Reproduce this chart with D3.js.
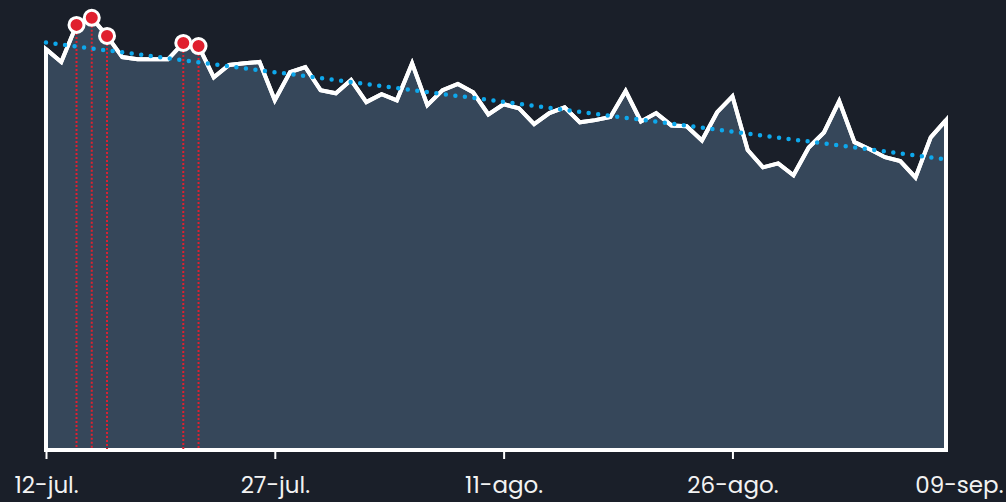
<!DOCTYPE html>
<html lang="es">
<head>
<meta charset="UTF-8">
<title>Serie diaria</title>
<script src="https://d3js.org/d3.v7.min.js"></script>
<style>
    html, body { margin: 0; padding: 0; background: #1a1f29; }
    svg { display: block; }
    .tick text { font-family: Poppins, "Noto Sans", Lato, sans-serif; }
</style>
</head>
<body>
<svg id="chart" width="1006" height="502"></svg>
<script>
    // Data
    const startDate = new Date(2024, 6, 12);
    const values = [
        90.9, 88.0, 96.4, 98.0, 93.9, 89.1, 88.6, 88.6, 88.6, 92.3,
        91.6, 84.5, 87.3, 87.7, 88.0, 79.3, 85.7, 86.8, 81.6, 80.9,
        83.9, 78.9, 80.7, 79.3, 87.7, 78.2, 81.6, 83.0, 81.1, 76.1,
        78.4, 77.5, 73.9, 76.4, 77.7, 74.3, 74.8, 75.5, 81.4, 74.5,
        76.4, 73.6, 73.4, 70.2, 76.6, 80.2, 68.0, 64.1, 65.0, 62.3,
        68.6, 72.0, 79.1, 69.8, 68.2, 66.4, 65.5, 61.8, 70.9, 74.8
    ];
    const tickDates = [
        new Date(2024, 6, 12), new Date(2024, 6, 27), new Date(2024, 7, 11),
        new Date(2024, 7, 26), new Date(2024, 8, 9)
    ];
    const tickLabels = ['12-jul.', '27-jul.', '11-ago.', '26-ago.', '09-sep.'];
    const topCount = 5;

    const data = values.map((v, i) => ({ date: d3.timeDay.offset(startDate, i), value: v }));

    const svg = d3.select('#chart'),
          margin = { top: 9, right: 60, bottom: 52, left: 46 },
          width = +svg.attr('width') - margin.left - margin.right,
          height = +svg.attr('height') - margin.top - margin.bottom;

    const g = svg.append('g').attr('transform', `translate(${margin.left},${margin.top})`);

    const x = d3.scaleTime().domain(d3.extent(data, d => d.date)).range([0, width]);
    const y = d3.scaleLinear().domain([0, 100]).range([height, 0]);

    // area + outline
    const area = d3.area().x(d => x(d.date)).y0(height).y1(d => y(d.value));
    g.append('path')
        .datum(data)
        .attr('fill', '#36475a')
        .attr('stroke', '#ffffff')
        .attr('stroke-width', 4)
        .attr('d', area);

    // red markers: highest values
    const peaks = data.slice().sort((a, b) => b.value - a.value).slice(0, topCount);

    g.selectAll('.drop')
        .data(peaks)
        .enter().append('line')
        .attr('class', 'drop')
        .attr('x1', d => x(d.date)).attr('x2', d => x(d.date))
        .attr('y1', d => y(d.value)).attr('y2', height)
        .attr('stroke', '#e0202f')
        .attr('stroke-width', 2)
        .attr('stroke-dasharray', '2,2');

    // trend line (least squares)
    const n = data.length;
    const mx = (n - 1) / 2, my = d3.mean(values);
    const slope = d3.sum(values, (v, i) => (i - mx) * (v - my)) / d3.sum(values, (v, i) => (i - mx) * (i - mx));
    const trend = [0, n - 1].map(i => ({ date: data[i].date, value: my + slope * (i - mx) }));

    // white line over area
    const line = d3.line().x(d => x(d.date)).y(d => y(d.value));
    g.append('path')
        .datum(data)
        .attr('fill', 'none')
        .attr('stroke', '#ffffff')
        .attr('stroke-width', 4)
        .attr('d', line);

    g.append('path')
        .datum(trend)
        .attr('fill', 'none')
        .attr('stroke', '#0ea8ec')
        .attr('stroke-width', 4.5)
        .attr('stroke-linecap', 'round')
        .attr('stroke-dasharray', '0,9.6')
        .attr('d', line);

    g.selectAll('.peak')
        .data(peaks)
        .enter().append('circle')
        .attr('class', 'peak')
        .attr('cx', d => x(d.date))
        .attr('cy', d => y(d.value))
        .attr('r', 7.5)
        .attr('fill', '#e0202f')
        .attr('stroke', '#ffffff')
        .attr('stroke-width', 3);

    // x axis
    const xAxis = g.append('g')
        .attr('transform', `translate(0,${height})`)
        .call(d3.axisBottom(x).tickValues(tickDates).tickSize(9).tickSizeOuter(0)
            .tickFormat((d, i) => tickLabels[i]));
    xAxis.select('.domain').attr('stroke', '#ffffff').attr('stroke-width', 3);
    xAxis.selectAll('.tick line').attr('stroke', '#ffffff').attr('stroke-width', 2);
    xAxis.selectAll('.tick').filter((d, i) => i === tickDates.length - 1).select('line').remove();
    xAxis.selectAll('.tick text')
        .attr('fill', '#f2f2f2')
        .attr('font-size', 23)
        .attr('y', 27);
    xAxis.selectAll('.tick').filter((d, i) => i === tickDates.length - 1).select('text')
        .attr('text-anchor', 'end')
        .attr('x', 57);
</script>
</body>
</html>
